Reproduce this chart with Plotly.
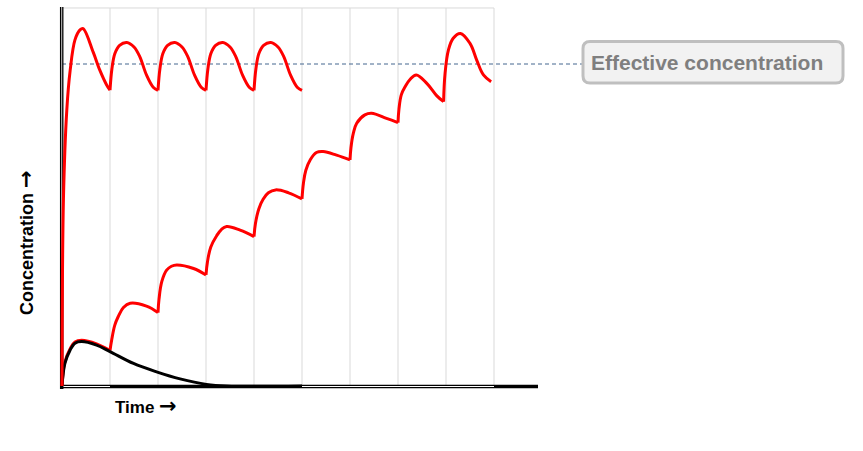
import plotly.graph_objects as go

# ---------------- data (time in dosing intervals, concentration arbitrary units) ----------------
dose_times = [0, 1, 2, 3, 4, 5, 6, 7, 8, 9]
effective_level = 100
y_top = 117.4

# loading dose followed by maintenance doses (segments split at each dose)
loading_t = [0, 0.03, 0.1, 0.17, 0.27, 0.375, 0.44, 0.65, 0.79, 0.93, 1.0, None,
             1.0, 1.04, 1.1, 1.2, 1.35, 1.5, 1.62, 1.76, 1.9, 2.0, None,
             2.0, 2.04, 2.1, 2.2, 2.35, 2.5, 2.62, 2.76, 2.9, 3.0, None,
             3.0, 3.04, 3.1, 3.2, 3.35, 3.5, 3.62, 3.76, 3.9, 4.0, None,
             4.0, 4.04, 4.1, 4.2, 4.35, 4.5, 4.62, 4.76, 4.9, 5.0]
loading_c = [0, 58, 85.7, 98, 107.5, 110.6, 111, 103.7, 98, 93.5, 91.9, None,
             91.9, 98.5, 103.2, 105.8, 106.7, 105.3, 102.3, 96.6, 92.8, 91.8, None,
             91.8, 98.5, 103.2, 105.8, 106.7, 105.3, 102.3, 96.6, 92.8, 91.8, None,
             91.8, 98.5, 103.2, 105.8, 106.7, 105.3, 102.3, 96.6, 92.8, 91.8, None,
             91.8, 98.5, 103.2, 105.8, 106.7, 105.3, 102.3, 96.6, 92.8, 91.8]

# maintenance doses only (accumulating)
maint_t = [0, 0.06, 0.17, 0.27, 0.41, 0.72, 1.0, None,
           1.0, 1.035, 1.1, 1.17, 1.28, 1.42, 1.76, 2.0, None,
           2.0, 2.02, 2.08, 2.18, 2.28, 2.39, 2.74, 3.0, None,
           3.0, 3.03, 3.1, 3.22, 3.32, 3.43, 3.71, 4.0, None,
           4.0, 4.03, 4.1, 4.19, 4.3, 4.45, 4.72, 5.0, None,
           5.0, 5.03, 5.08, 5.17, 5.3, 5.44, 5.72, 6.0, None,
           6.0, 6.02, 6.07, 6.14, 6.31, 6.45, 6.76, 7.0, None,
           7.0, 7.02, 7.07, 7.15, 7.25, 7.38, 7.6, 7.81, 7.95, None,
           7.95, 7.98, 8.05, 8.15, 8.3, 8.5, 8.64, 8.78, 8.94]
maint_c = [0, 7.4, 11.6, 13.7, 14.2, 13.1, 11.0, None,
           11.0, 14.3, 18.9, 21.5, 24.4, 25.7, 24.8, 22.8, None,
           22.8, 26.8, 32.5, 36.0, 37.2, 37.6, 36.5, 34.5, None,
           34.5, 38.5, 43.2, 46.6, 48.6, 49.5, 48.4, 46.4, None,
           46.4, 50.5, 55.0, 58.0, 60.0, 60.9, 60.0, 58.1, None,
           58.1, 63.0, 67.0, 70.2, 72.5, 72.8, 71.7, 70.2, None,
           70.2, 74.0, 78.5, 81.6, 84.2, 84.7, 83.1, 81.8, None,
           81.8, 86.0, 90.5, 93.0, 95.2, 96.6, 94.0, 90.1, 88.3, None,
           88.3, 97.0, 104.3, 108.0, 109.5, 106.4, 101.2, 96.6, 94.5]

# single dose
single_t = [0, 0.06, 0.17, 0.27, 0.41, 0.72, 1.0, 1.49, 1.97, 2.46, 3.01, 3.43, 5.0]
single_c = [0, 7.0, 11.2, 13.3, 13.8, 12.7, 10.7, 7.0, 4.4, 2.2, 0.5, 0, 0]

# ---------------- figure geometry ----------------
W, H = 863, 451
X0PX, PXPER_T = 62, 48.0
Y0PX, PXPER_C = 386, 3.22


def t_of(px):
    return (px - X0PX) / PXPER_T


def c_of(py):
    return (Y0PX - py) / PXPER_C


def px(x):
    return x / W


def py(y):
    return 1 - y / H


fig = go.Figure()

fig.add_trace(go.Scatter(x=maint_t, y=maint_c, mode="lines",
                         line=dict(color="#ff0000", width=3, shape="spline", smoothing=1.1),
                         connectgaps=False, hoverinfo="skip"))
fig.add_trace(go.Scatter(x=single_t, y=single_c, mode="lines",
                         line=dict(color="#000000", width=3, shape="spline", smoothing=1.0),
                         hoverinfo="skip"))
fig.add_trace(go.Scatter(x=loading_t, y=loading_c, mode="lines",
                         line=dict(color="#ff0000", width=3, shape="spline", smoothing=1.0),
                         connectgaps=False, hoverinfo="skip"))

shapes = []
# vertical grid lines at each dose
for t in dose_times:
    shapes.append(dict(type="line", x0=t, x1=t, y0=0, y1=y_top, xref="x", yref="y",
                       line=dict(color="#d9d9d9", width=1), layer="below"))
shapes.append(dict(type="line", x0=dose_times[0], x1=dose_times[-1], y0=y_top, y1=y_top,
                   xref="x", yref="y", line=dict(color="#d9d9d9", width=1), layer="below"))

# effective concentration dashed line
shapes.append(dict(type="line", x0=0, x1=t_of(582), y0=effective_level, y1=effective_level,
                   xref="x", yref="y", line=dict(color="#44668f", width=1, dash="4px,3px"),
                   layer="below"))

# axes
shapes.append(dict(type="line", x0=0, x1=t_of(538), y0=c_of(386.5), y1=c_of(386.5), xref="x", yref="y",
                   line=dict(color="#000000", width=3.5), layer="below"))
for a, b in [(0, 1), (5, 9)]:
    shapes.append(dict(type="line", x0=a, x1=b, y0=c_of(386.5), y1=c_of(386.5), xref="x", yref="y",
                       line=dict(color="#ffffff", width=1), layer="below"))
shapes.append(dict(type="line", x0=t_of(61.7), x1=t_of(61.7), y0=c_of(389), y1=c_of(7),
                   xref="x", yref="y", line=dict(color="#000000", width=3.5), layer="below"))
shapes.append(dict(type="line", x0=t_of(61.7), x1=t_of(61.7), y0=c_of(386), y1=c_of(7),
                   xref="x", yref="y", line=dict(color="#cccccc", width=1), layer="below"))

# rounded label box
bx0, bx1, by0, by1, r = 583, 843, 41.5, 83, 7
path = (f"M {px(bx0 + r)} {py(by0)} L {px(bx1 - r)} {py(by0)} "
        f"Q {px(bx1)} {py(by0)} {px(bx1)} {py(by0 + r)} L {px(bx1)} {py(by1 - r)} "
        f"Q {px(bx1)} {py(by1)} {px(bx1 - r)} {py(by1)} L {px(bx0 + r)} {py(by1)} "
        f"Q {px(bx0)} {py(by1)} {px(bx0)} {py(by1 - r)} L {px(bx0)} {py(by0 + r)} "
        f"Q {px(bx0)} {py(by0)} {px(bx0 + r)} {py(by0)} Z")
shapes.append(dict(type="path", path=path, xref="paper", yref="paper",
                   line=dict(color="#bfbfbf", width=3), fillcolor="#f2f2f2", layer="above"))

ARROW = "<span style='font-family:DejaVu Sans;font-size:21px'>→</span>"
annotations = [
    dict(text="Effective concentration", x=px(589), y=py(63), xref="paper", yref="paper",
         xanchor="left", yanchor="middle", showarrow=False,
         font=dict(family="Liberation Sans, Arial, sans-serif", size=21, color="#7f7f7f",
                   weight="bold")),
    dict(text="Concentration " + ARROW, x=px(26), y=py(243), xref="paper", yref="paper",
         xanchor="center", yanchor="middle", textangle=-90, showarrow=False,
         font=dict(family="Liberation Sans, Arial, sans-serif", size=18, color="#000000",
                   weight="bold")),
    dict(text="Time " + ARROW, x=px(146), y=py(406), xref="paper", yref="paper",
         xanchor="center", yanchor="middle", showarrow=False,
         font=dict(family="Liberation Sans, Arial, sans-serif", size=17, color="#000000",
                   weight="bold")),
]

fig.update_layout(
    width=W, height=H, margin=dict(l=0, r=0, t=0, b=0),
    paper_bgcolor="white", plot_bgcolor="white", showlegend=False,
    xaxis=dict(range=[t_of(0), t_of(W)], visible=False, fixedrange=True),
    yaxis=dict(range=[c_of(H), c_of(0)], visible=False, fixedrange=True),
    shapes=shapes, annotations=annotations,
)

fig.write_html("out.html")
